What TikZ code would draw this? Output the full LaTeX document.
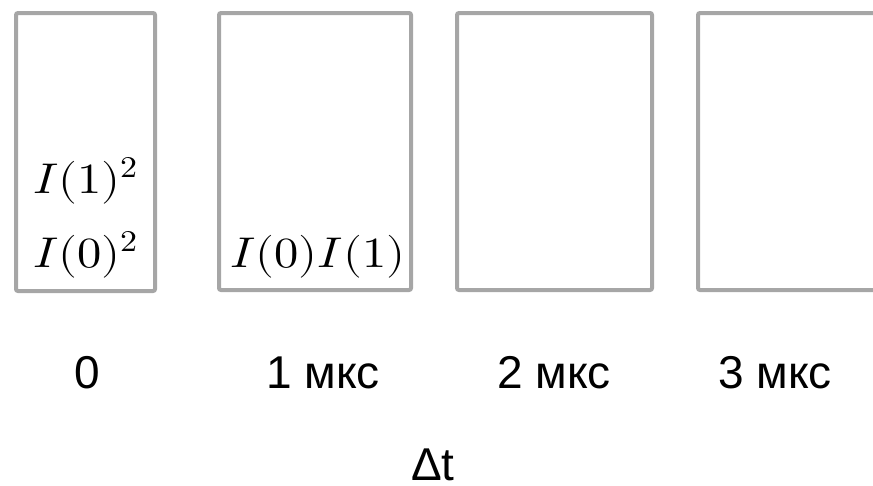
\documentclass[tikz,border=0pt]{standalone}
\usepackage{fontspec}
\usepackage{unicode-math}
\setmainfont{Liberation Sans}
\setmathfont{Latin Modern Math}
\begin{document}
\begin{tikzpicture}[x=1pt,y=-1pt,
  cell/.style={draw=cellgray,line width=4pt,rounded corners=2pt},
  lbl/.style={anchor=base,inner sep=0pt,font=\fontsize{46}{50}\selectfont},
  formula/.style={anchor=base west,inner sep=0pt,font=\fontsize{43}{48}\selectfont}]
\definecolor{cellgray}{HTML}{A6A6A6}
\newcommand\wideformula[1]{\scalebox{1.13}[1]{$#1$}}
\useasboundingbox (0,0) rectangle (873,485);
\clip (0,0) rectangle (873,485);
% time cells
\draw[cell] (16,13) rectangle (155,291);
\draw[cell] (219,13) rectangle (411,290);
\draw[cell] (457,13) rectangle (652,290);
\draw[cell] (698,13) rectangle (900,290);
% cell contents
\node[formula] (a1) at (33,193) {\wideformula{I(1)^2}};
\node[formula] (a0) at (33,267) {\wideformula{I(0)^2}};
\node[formula] (b) at (230,267) {\wideformula{I(0)I(1)}};
% time axis labels
\node[lbl] (t0) at (87,388) {0};
\node[lbl] (t1) at (323,388) {1 мкс};
\node[lbl] (t2) at (554,388) {2 мкс};
\node[lbl] (t3) at (775,388) {3 мкс};
\node[lbl] (dt) at (433,480) {Δt};
\end{tikzpicture}
\end{document}
